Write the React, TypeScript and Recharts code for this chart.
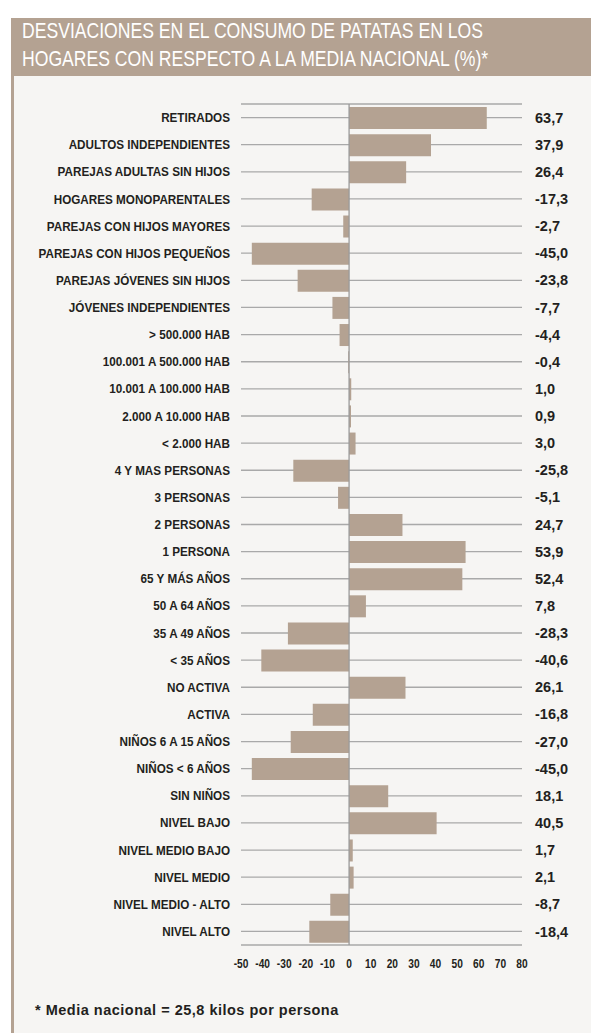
import { BarChart, Bar, XAxis, YAxis, CartesianGrid, ReferenceLine } from 'recharts';

const CATEGORIES = [
  'RETIRADOS',
  'ADULTOS INDEPENDIENTES',
  'PAREJAS ADULTAS SIN HIJOS',
  'HOGARES MONOPARENTALES',
  'PAREJAS CON HIJOS MAYORES',
  'PAREJAS CON HIJOS PEQUEÑOS',
  'PAREJAS JÓVENES SIN HIJOS',
  'JÓVENES INDEPENDIENTES',
  '> 500.000 HAB',
  '100.001 A 500.000 HAB',
  '10.001 A 100.000 HAB',
  '2.000 A 10.000 HAB',
  '< 2.000 HAB',
  '4 Y MAS PERSONAS',
  '3 PERSONAS',
  '2 PERSONAS',
  '1 PERSONA',
  '65 Y MÁS AÑOS',
  '50 A 64 AÑOS',
  '35 A 49 AÑOS',
  '< 35 AÑOS',
  'NO ACTIVA',
  'ACTIVA',
  'NIÑOS 6 A 15 AÑOS',
  'NIÑOS < 6 AÑOS',
  'SIN NIÑOS',
  'NIVEL BAJO',
  'NIVEL MEDIO BAJO',
  'NIVEL MEDIO',
  'NIVEL MEDIO - ALTO',
  'NIVEL ALTO',
];

const VALUES = [
  63.7, 37.9, 26.4, -17.3, -2.7, -45.0, -23.8, -7.7, -4.4, -0.4, 1.0, 0.9, 3.0, -25.8, -5.1,
  24.7, 53.9, 52.4, 7.8, -28.3, -40.6, 26.1, -16.8, -27.0, -45.0, 18.1, 40.5, 1.7, 2.1, -8.7,
  -18.4,
];

const X_TICKS = [-50, -40, -30, -20, -10, 0, 10, 20, 30, 40, 50, 60, 70, 80];

const TITLE_LINES = [
  'DESVIACIONES EN EL CONSUMO  DE PATATAS EN LOS',
  'HOGARES CON RESPECTO A LA MEDIA NACIONAL (%)*',
];
const FOOTNOTE = '* Media nacional = 25,8 kilos por persona';

const TAUPE = '#b4a292';
const INK = '#231f20';
const SANS = '"Liberation Sans", Arial, sans-serif';

const data = CATEGORIES.map((name, i) => ({ name, value: VALUES[i] }));

const fmt = (v: number) => v.toFixed(1).replace('.', ',');

// no condensed face installed, so squeeze Liberation Sans horizontally
function CategoryTick({ x, y, payload }: any) {
  return (
    <g transform={`translate(${x},${y}) scale(0.9,1)`}>
      <text x={0} y={0} dy="0.35em" textAnchor="end" fill={INK} fontFamily={SANS} fontWeight={700} fontSize={13}>
        {payload.value}
      </text>
    </g>
  );
}

function ValueTick({ x, y, payload, index }: any) {
  const i = typeof index === 'number' ? index : CATEGORIES.indexOf(payload.value);
  return (
    <text x={x} y={y} dy="0.35em" textAnchor="start" fill={INK} fontFamily={SANS} fontWeight={700} fontSize={14.5}>
      {fmt(VALUES[i])}
    </text>
  );
}

function NumberTick({ x, y, payload }: any) {
  return (
    <g transform={`translate(${x},${y}) scale(0.85,1)`}>
      <text x={0} y={0} dy="0.71em" textAnchor="middle" fill={INK} fontFamily={SANS} fontWeight={700} fontSize={12}>
        {payload.value}
      </text>
    </g>
  );
}

export default function App() {
  return (
    <div style={{ position: 'absolute', left: 0, top: 0, width: 591, height: 1033, background: '#fff', overflow: 'hidden' }}>
      {/* panel + left rule */}
      <div style={{ position: 'absolute', left: 11, top: 18, width: 580, height: 1015, background: '#f6f5f3', borderLeft: `3px solid ${TAUPE}`, boxSizing: 'border-box' }} />
      {/* header */}
      <div style={{ position: 'absolute', left: 11, top: 18, width: 580, height: 58, background: TAUPE }}>
        <svg width={580} height={58} style={{ display: 'block' }}>
          {TITLE_LINES.map((t, i) => (
            <g key={i} transform={`translate(11,${20 + i * 28}) scale(0.8,1)`}>
              <text x={0} y={0} fill="#fff" fontFamily={SANS} fontSize={22}>
                {t}
              </text>
            </g>
          ))}
        </svg>
      </div>
      <div style={{ position: 'absolute', left: 0, top: 0 }}>
        <BarChart
          width={591}
          height={1000}
          data={data}
          layout="vertical"
          margin={{ top: 104, right: 0, bottom: 25, left: 0 }}
        >
          <CartesianGrid horizontal vertical={false} stroke="#a9a9a9" strokeWidth={1.3} yAxisId="left" />
          <XAxis
            type="number"
            domain={[-50, 80]}
            ticks={X_TICKS}
            axisLine={false}
            tickLine={false}
            tickMargin={8}
            tick={<NumberTick />}
            height={30}
            interval={0}
          />
          <YAxis
            yAxisId="left"
            type="category"
            dataKey="name"
            width={241}
            axisLine={false}
            tickLine={false}
            tickMargin={5}
            tick={<CategoryTick />}
            interval={0}
          />
          <YAxis
            yAxisId="right"
            orientation="right"
            type="category"
            dataKey="name"
            width={69}
            axisLine={false}
            tickLine={false}
            tickMargin={7}
            tick={<ValueTick />}
            interval={0}
          />
          <Bar dataKey="value" yAxisId="left" fill={TAUPE} barSize={22} isAnimationActive={false} />
          <ReferenceLine x={0} yAxisId="left" stroke="#9a9a9a" strokeWidth={1.3} />
        </BarChart>
      </div>
      <div
        style={{
          position: 'absolute',
          left: 35,
          top: 1002,
          fontFamily: SANS,
          fontWeight: 700,
          fontSize: 14.5,
          letterSpacing: 0.5,
          color: INK,
          whiteSpace: 'nowrap',
        }}
      >
        {FOOTNOTE}
      </div>
    </div>
  );
}
